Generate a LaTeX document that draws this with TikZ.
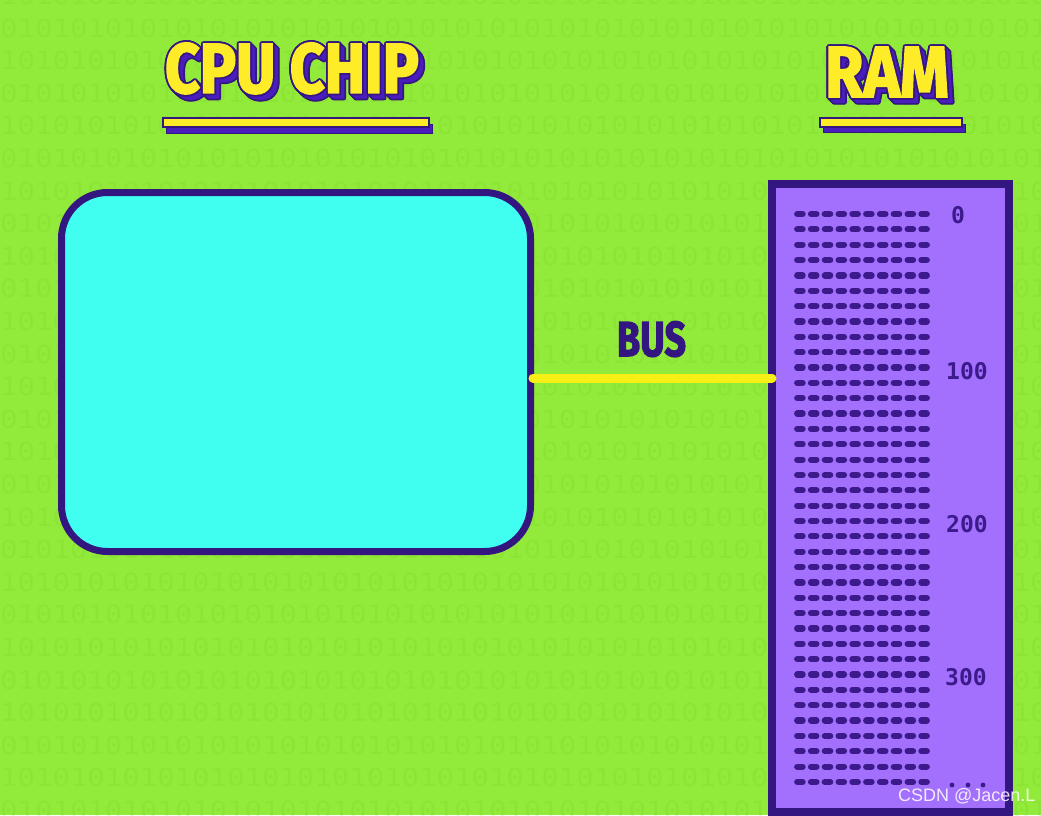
\documentclass[tikz,border=0pt]{standalone}
\usepackage{fontspec}
\usetikzlibrary{calc}
\newfontfamily\titlefont{Fira Sans}[BoldFeatures={FakeBold=2.5}]
\newfontfamily\monofont{DejaVu Sans Mono}
\newfontfamily\wmfont{Liberation Sans}
\definecolor{bggreen}{RGB}{146,234,58}
\definecolor{digitgreen}{RGB}{118,212,30}
\definecolor{dpurple}{RGB}{52,22,128}
\definecolor{dashpurple}{RGB}{60,26,140}
\definecolor{cpucyan}{RGB}{64,255,240}
\definecolor{ramlilac}{RGB}{162,112,252}
\definecolor{ttlyellow}{RGB}{255,236,40}
\definecolor{ttlshadow}{RGB}{74,30,190}
\definecolor{busyellow}{RGB}{246,240,22}
\newcommand\fitbox[3]{\resizebox{#2}{#3}{\titlefont\bfseries #1}}
\newcommand\digitrowA{101010101010101010101010101010101010101010101010101010101010}
\newcommand\digitrowB{010101010101010101010101010101010101010101010101010101010101}
\tikzset{
  ttl/.style={anchor=south west, inner sep=0pt, outer sep=0pt},
  cpubox/.style={draw=dpurple, fill=cpucyan, line width=7pt, rounded corners=46pt, inner sep=0pt},
  rambox/.style={draw=dpurple, fill=ramlilac, line width=8pt, inner sep=0pt},
  dashseg/.style={dashpurple, line width=6.2pt, line cap=round},
  addr/.style={text=dashpurple, font=\monofont\bfseries\fontsize{23}{23}\selectfont, inner sep=0pt},
  bgdigits/.style={anchor=west, inner sep=0pt, text=digitgreen, text opacity=0.2},
  ulineY/.style={fill=ttlyellow, draw=dpurple, line width=1.2pt},
  ulineS/.style={fill=ttlshadow, draw=dpurple, line width=1pt},
}
% text, x, baseline y, width, height
\newcommand\shadowtitle[5]{%
  \foreach \k in {0,...,5}{%
    \foreach \a in {0,45,...,315}{%
      \node[ttl, text=dpurple] at ([shift={(\a:1.8)}]#2+\k,#3+\k) {\fitbox{#1}{#4}{#5}};}}
  \foreach \k in {1,...,5}{%
    \node[ttl, text=ttlshadow] at (#2+\k,#3+\k) {\fitbox{#1}{#4}{#5}};}
  \foreach \a in {0,45,...,315}{%
    \node[ttl, text=dpurple] at ([shift={(\a:1.8)}]#2,#3) {\fitbox{#1}{#4}{#5}};}
  \node[ttl, text=ttlyellow] at (#2,#3) {\fitbox{#1}{#4}{#5}};
}
\begin{document}
\begin{tikzpicture}[x=1pt,y=-1pt]
\useasboundingbox (0,0) rectangle (1041,815);
\fill[bggreen] (0,0) rectangle (1041,815);
% background binary texture
\foreach \r in {0,...,25}{%
  \pgfmathsetmacro\yy{28+32.6*(\r-1)}
  \ifodd\r
    \node[bgdigits] (bg\r) at (0,\yy) {\scalebox{1.16}[1]{\monofont\fontsize{25}{25}\selectfont\digitrowB}};
  \else
    \node[bgdigits] (bg\r) at (0,\yy) {\scalebox{1.16}[1]{\monofont\fontsize{25}{25}\selectfont\digitrowA}};
  \fi
}
% titles
\shadowtitle{CPU CHIP}{165}{94}{254pt}{50pt}
\filldraw[ulineS] (166,124) rectangle (432,133);
\draw[ulineY] (163,118) rectangle (429,127);
\shadowtitle{RAM}{825}{97}{124pt}{50pt}
\filldraw[ulineS] (823,124) rectangle (965,132);
\draw[ulineY] (820,118) rectangle (962,127);
% CPU chip
\node[cpubox, minimum width=469pt, minimum height=359pt] (cpu) at (296,372) {};
% RAM
\node[rambox, minimum width=237pt, minimum height=628pt] (ram) at (890.5,498) {};
\foreach \r in {0,...,37}{%
  \foreach \c in {0,...,9}{%
    \draw[dashseg] (797.2+13.8*\c,214+15.35*\r) -- ++(5.4,0);}}
\node[addr] (a0) at (958,215) {0};
\node[addr] (a100) at (967,371) {100};
\node[addr] (a200) at (967,524) {200};
\node[addr] (a300) at (966,677) {300};
\foreach \dx in {952,968,983}{\fill[dashpurple] (\dx,785) circle (2.4);}
% bus
\coordinate (busy) at (0,378);
\draw[busyellow, line width=9pt, line cap=round] ([xshift=-1pt]cpu.east |- busy) -- ([xshift=4pt]ram.west |- busy);
\node[ttl, text=dpurple] (bus) at (617,357) {\fitbox{BUS}{69pt}{35pt}};
% watermark
\node[anchor=south west, inner sep=0pt, text=white, text opacity=0.85, font=\wmfont\fontsize{18}{18}\selectfont] (wm) at (898,804) {CSDN @Jacen.L};
\end{tikzpicture}
\end{document}
